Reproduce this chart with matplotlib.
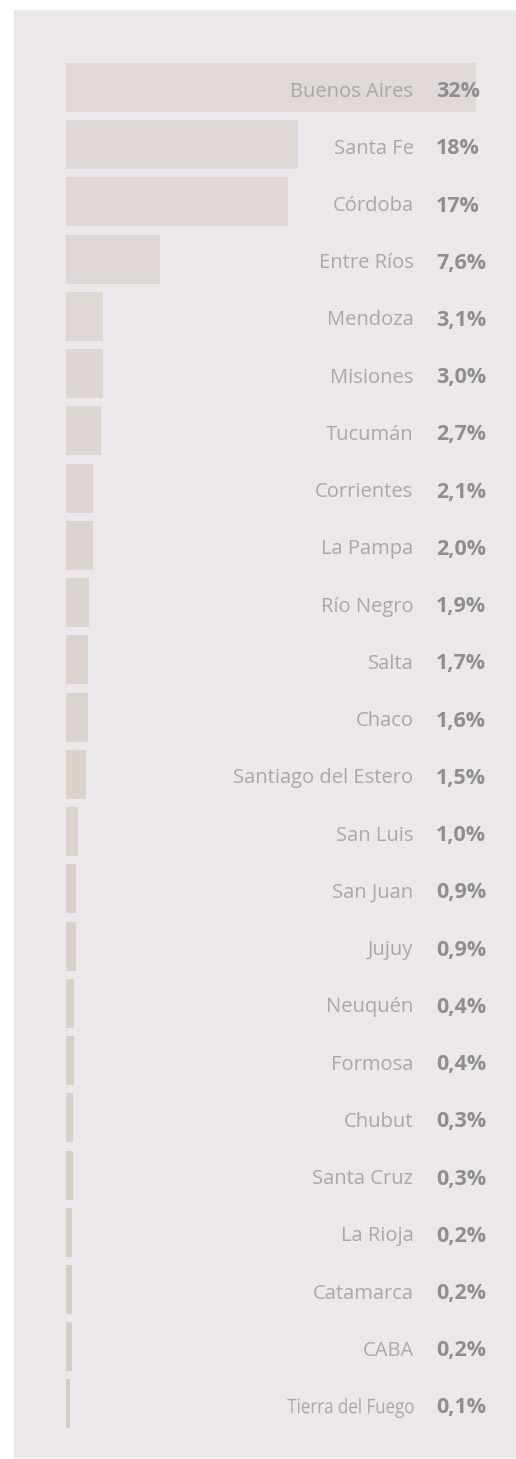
import matplotlib.pyplot as plt
from matplotlib.patches import Rectangle, PathPatch
from matplotlib.textpath import TextPath
from matplotlib.font_manager import FontProperties
from matplotlib.transforms import Affine2D
import numpy as np

# Provincias y participación (%)
provincias = ['Buenos Aires', 'Santa Fe', 'Córdoba', 'Entre Ríos', 'Mendoza',
              'Misiones', 'Tucumán', 'Corrientes', 'La Pampa', 'Río Negro',
              'Salta', 'Chaco', 'Santiago del Estero', 'San Luis', 'San Juan',
              'Jujuy', 'Neuquén', 'Formosa', 'Chubut', 'Santa Cruz',
              'La Rioja', 'Catamarca', 'CABA', 'Tierra del Fuego']
etiquetas = ['32%', '18%', '17%', '7,6%', '3,1%', '3,0%', '2,7%', '2,1%',
             '2,0%', '1,9%', '1,7%', '1,6%', '1,5%', '1,0%', '0,9%', '0,9%',
             '0,4%', '0,4%', '0,3%', '0,3%', '0,2%', '0,2%', '0,2%', '0,1%']
# largo de las barras (las chicas están infladas)
largo_barra = [32, 18.1, 17.3, 7.35, 2.9, 2.9, 2.75, 2.1, 2.1, 1.8,
               1.72, 1.72, 1.56, 0.94, 0.78, 0.78, 0.62, 0.62, 0.55, 0.55,
               0.47, 0.47, 0.47, 0.31]

W, H = 516, 1459
DPI = 100
fig = plt.figure(figsize=(W / DPI, H / DPI), dpi=DPI)
fig.patch.set_facecolor('white')

# panel gris de fondo
panel = Rectangle((14 / W, 1 - 1457 / H), (W - 14) / W, 1447 / H,
                  transform=fig.transFigure, color='#ebe7ea', zorder=-10)
fig.add_artist(panel)

n = len(provincias)
y = np.arange(n)
top, bottom = 58.9, 1432.6
ax = fig.add_axes([66 / W, 1 - bottom / H, 410 / W, (bottom - top) / H])
ax.set_facecolor('none')
ax.set_zorder(5)

# colores: de rosado claro a beige más oscuro
c0 = np.array([0xe1, 0xd9, 0xd8]) / 255
c1 = np.array([0xd5, 0xcc, 0xc1]) / 255
colores = [tuple(c0 + (c1 - c0) * i / (n - 1)) for i in range(n)]

ax.barh(y, largo_barra, height=0.856, color=colores, zorder=1)
ax.set_xlim(0, 32)
ax.set_ylim(n - 0.5, -0.5)
ax.axis('off')

escala = 410 / 32  # px por unidad
x_nombre = (413.5 - 66) / escala
x_valor = (436 - 66) / escala
dy = 0.07
tam_nombre = 14.5
col_nombre = '#a8a8aa'
fp = FontProperties(family='Open Sans')

for i in range(n):
    if provincias[i] == 'Tierra del Fuego':
        # en el original este nombre va en versión condensada
        tp = TextPath((0, 0), provincias[i], size=tam_nombre, prop=fp)
        ref = TextPath((0, 0), 'lp', size=tam_nombre, prop=fp).get_extents()
        ext = tp.get_extents()
        k = DPI / 72
        px, py = ax.transData.transform((x_nombre, i + dy))
        tr = (Affine2D().translate(-ext.x1, -(ref.y0 + ref.y1) / 2)
              .scale(0.84 * k, k).translate(px, py))
        fig.add_artist(PathPatch(tp, transform=tr, facecolor=col_nombre,
                                 edgecolor='none', zorder=10))
    else:
        ax.text(x_nombre, i + dy, provincias[i], ha='right', va='center',
                fontsize=tam_nombre, color=col_nombre, family='Open Sans',
                zorder=3, clip_on=False)
    ax.text(x_valor, i + dy, etiquetas[i], ha='left', va='center',
            fontsize=15.5, color='#8e8e90', family='Open Sans', fontweight='bold',
            zorder=3, clip_on=False)

fig.savefig('out.png', dpi=DPI, facecolor='white')
